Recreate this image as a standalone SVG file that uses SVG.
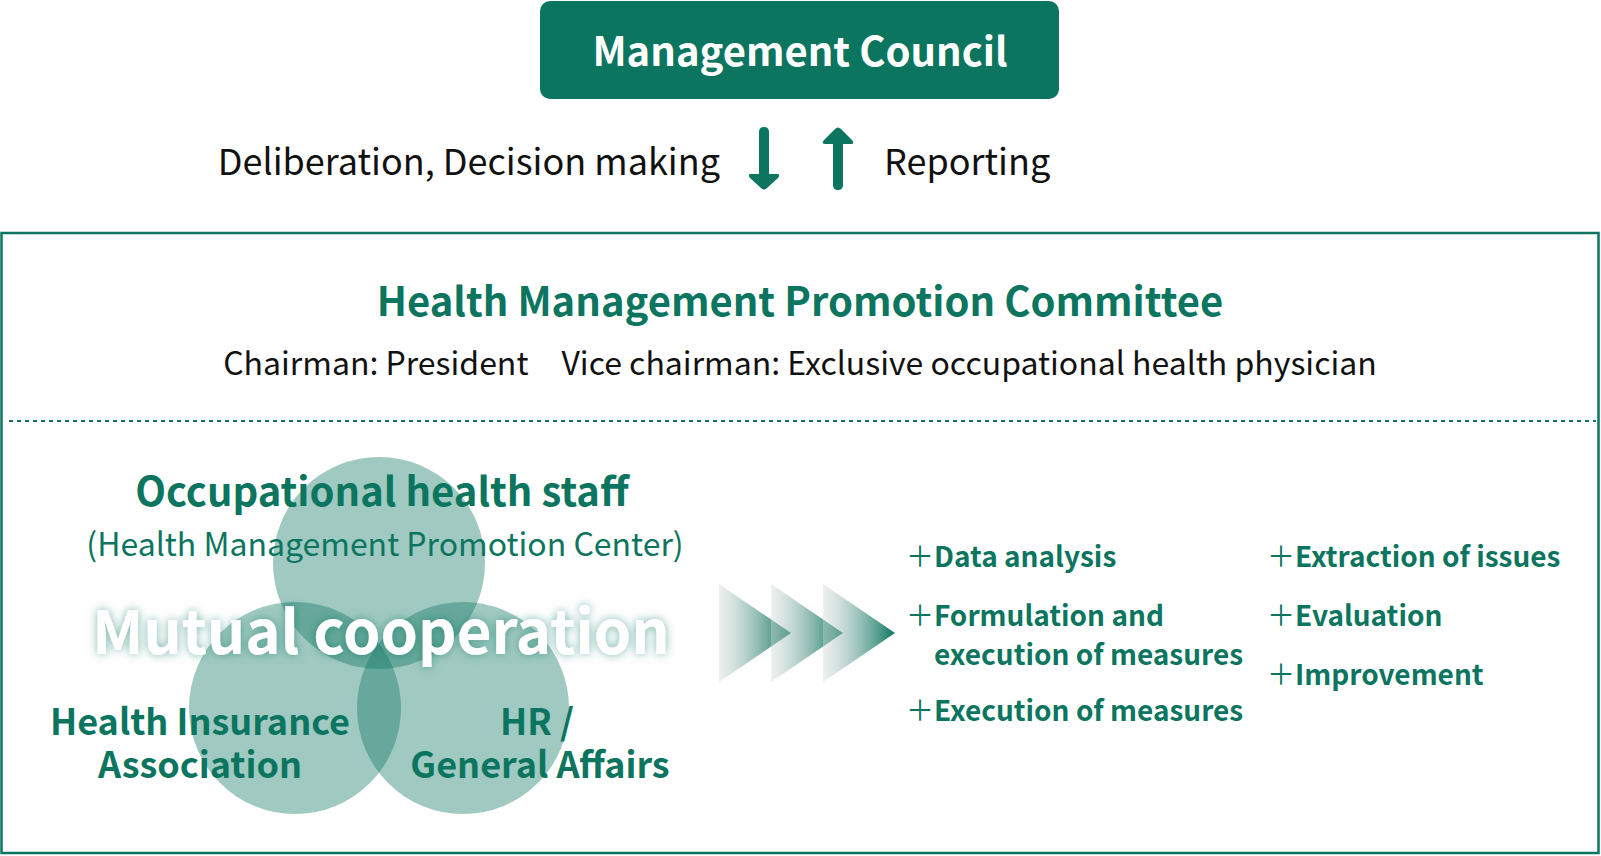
<svg xmlns="http://www.w3.org/2000/svg" width="1601" height="856" viewBox="0 0 1601 856">
<defs>
<style>
text{font-family:"Noto Sans CJK JP","Noto Sans",sans-serif;}
.g{fill:#0b7560;}
.b{font-weight:700;}
.k{fill:#111;}
.circ{fill:#0b7560;fill-opacity:0.39;}
.item{font-size:28px;font-weight:700;fill:#0b7560;}
.pl{font-weight:400;}
</style>
<linearGradient id="chev" x1="0" y1="0" x2="1" y2="0">
<stop offset="0" stop-color="#d3dad8" stop-opacity="0.4"/>
<stop offset="1" stop-color="#0b7560" stop-opacity="1"/>
</linearGradient>
<filter id="glow2" x="-10%" y="-40%" width="120%" height="180%">
<feGaussianBlur in="SourceAlpha" stdDeviation="5" result="bl"/>
<feFlood flood-color="#0b7560" flood-opacity="0.55"/>
<feComposite operator="in" in2="bl" result="sh"/>
<feMerge><feMergeNode in="sh"/><feMergeNode in="SourceGraphic"/></feMerge>
</filter>
</defs>
<rect width="1601" height="856" fill="#fff"/>

<g id="management-council">
<rect x="540" y="1" width="519" height="98" rx="10" fill="#0b7560"/>
<text x="800" y="66" font-size="40" class="b" fill="#fff" text-anchor="middle">Management Council</text>
</g>

<g id="connectors">
<path d="M759 132 Q759 127 764 127 Q769 127 769 132 L769 174 L777 174 Q781 174 778 178 L767 188 Q764 191 761 188 L750 178 Q747 174 751 174 L759 174 Z" fill="#0b7560"/>
<path d="M833 185 Q833 190 838 190 Q843 190 843 185 L843 144 L851 144 Q855 144 852 140 L841 129 Q838 126 835 129 L824 140 Q821 144 825 144 L833 144 Z" fill="#0b7560"/>
<text x="720" y="175" font-size="36" class="k" text-anchor="end">Deliberation, Decision making</text>
<text x="884" y="175" font-size="36" class="k">Reporting</text>
</g>

<g id="committee">
<rect x="1.5" y="233" width="1597" height="620" fill="none" stroke="#0b7560" stroke-width="2.5"/>
<text x="800" y="316" font-size="40" class="b g" text-anchor="middle">Health Management Promotion Committee</text>
<text x="800" y="375" font-size="32" class="k" text-anchor="middle">Chairman: President<tspan dx="33">Vice chairman: Exclusive occupational health physician</tspan></text>
<line x1="9" y1="421" x2="1596" y2="421" stroke="#0b7560" stroke-width="2" stroke-dasharray="4 4"/>
</g>

<g id="venn">
<circle class="circ" cx="379" cy="563" r="106"/>
<circle class="circ" cx="295" cy="708" r="106"/>
<circle class="circ" cx="463" cy="708" r="106"/>
</g>

<g id="occupational-health-staff">
<text x="382" y="506" font-size="40" class="b g" text-anchor="middle">Occupational health staff</text>
<text x="385" y="556" font-size="32" class="g" text-anchor="middle">(Health Management Promotion Center)</text>
</g>

<g id="mutual-cooperation">
<text x="381" y="654" font-size="60" class="b" fill="#fff" text-anchor="middle" filter="url(#glow2)">Mutual cooperation</text>
</g>

<g id="health-insurance-association">
<text font-size="36" class="b g" text-anchor="middle"><tspan x="200" y="735">Health Insurance</tspan><tspan x="200" y="778">Association</tspan></text>
</g>

<g id="hr-general-affairs">
<text font-size="36" class="b g" text-anchor="middle"><tspan x="537" y="735">HR /</tspan><tspan x="540" y="778">General Affairs</tspan></text>
</g>

<g id="chevrons">
<path d="M719 584 L791 633 L719 682 Z" fill="url(#chev)"/>
<path d="M771 584 L843 633 L771 682 Z" fill="url(#chev)"/>
<path d="M823 584 L895 633 L823 682 Z" fill="url(#chev)"/>
</g>

<g id="activities">
<text x="906" y="567" class="item"><tspan class="pl">＋</tspan>Data analysis</text>
<text x="906" y="626" class="item"><tspan class="pl">＋</tspan>Formulation and</text>
<text x="934" y="665" class="item">execution of measures</text>
<text x="906" y="721" class="item"><tspan class="pl">＋</tspan>Execution of measures</text>
<text x="1267" y="567" class="item"><tspan class="pl">＋</tspan>Extraction of issues</text>
<text x="1267" y="626" class="item"><tspan class="pl">＋</tspan>Evaluation</text>
<text x="1267" y="685" class="item"><tspan class="pl">＋</tspan>Improvement</text>
</g>
</svg>
